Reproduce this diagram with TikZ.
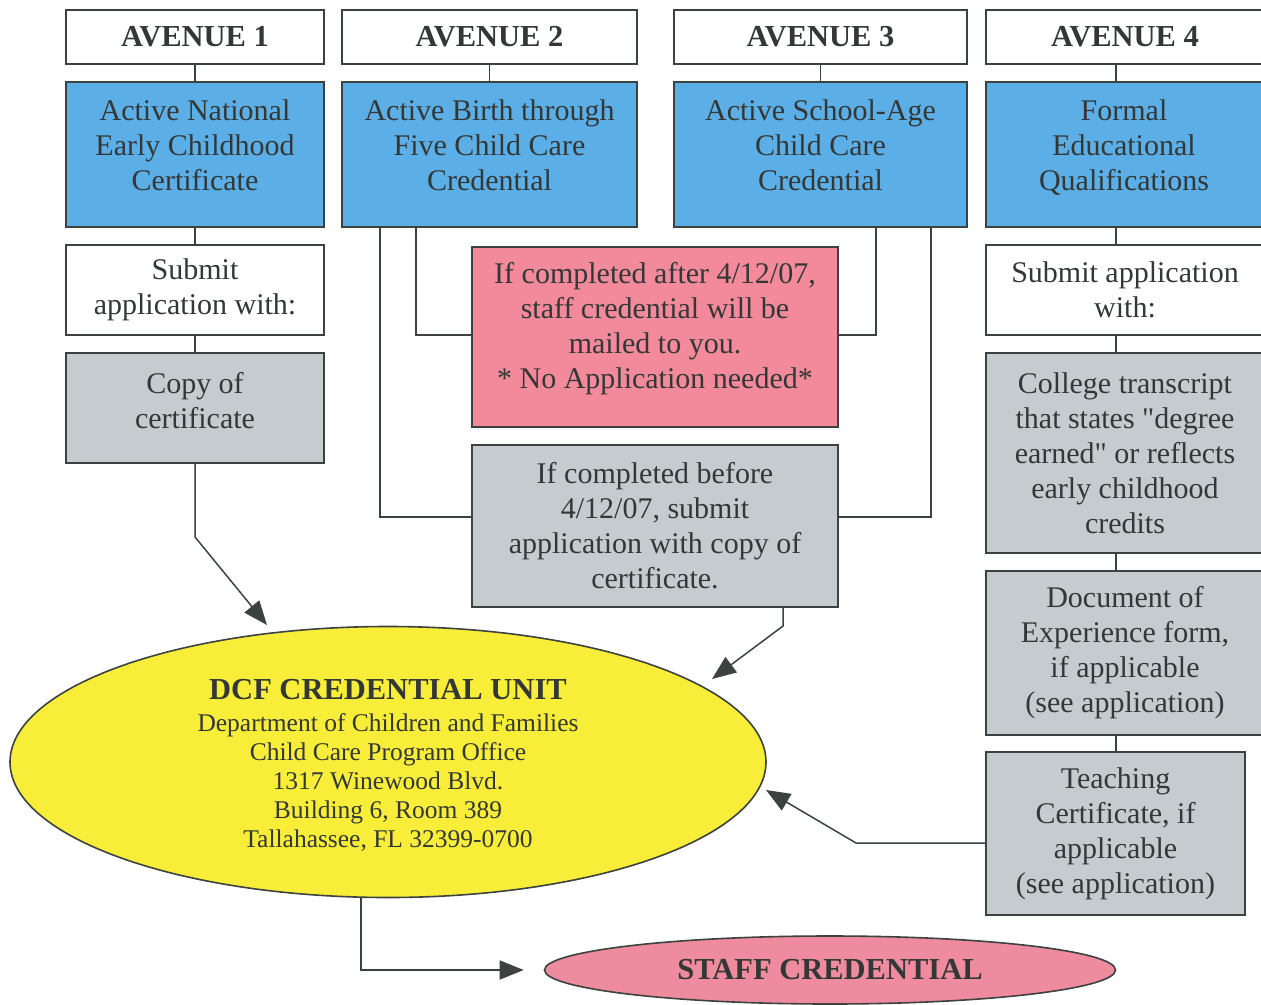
\documentclass[tikz,border=0pt]{standalone}
\usepackage{fontspec}
\setmainfont{Liberation Serif}[Ligatures=TeXOff]
\usetikzlibrary{arrows.meta,shapes.geometric}
\definecolor{bluefill}{HTML}{5CAEE6}
\definecolor{pinkfill}{HTML}{F28A9B}
\definecolor{greyfill}{HTML}{C6CBD0}
\definecolor{yellowfill}{HTML}{F8EE3A}
\definecolor{staffpink}{HTML}{EE8B9E}
\definecolor{linec}{HTML}{3C4240}
\definecolor{textc}{HTML}{333836}
\begin{document}
\begin{tikzpicture}[x=1pt,y=-1pt,
  box/.style={draw=linec, line width=1.6pt, inner sep=0pt, align=center, text=textc,
    font=\fontsize{30}{35}\selectfont},
  txt/.style={inner sep=0pt, align=center, text=textc, font=\fontsize{30}{35}\selectfont},
  headbox/.style={box, fill=white, minimum height=54pt, font=\fontsize{30.5}{34}\selectfont\bfseries},
  bluebox/.style={box, fill=bluefill, minimum height=145pt},
  whitebox/.style={box, fill=white},
  greybox/.style={box, fill=greyfill},
  pinkbox/.style={box, fill=pinkfill},
  conn/.style={draw=linec, line width=1.5pt},
  arr/.style={conn, -{Triangle[length=24pt,width=19pt]}},
]
\useasboundingbox (0,0) rectangle (1261,1004);
\fill[white] (0,0) rectangle (1261,1004);

% headers
\node[headbox, minimum width=258pt] (h1) at (195,37) {AVENUE 1};
\node[headbox, minimum width=295pt] (h2) at (489.5,37) {AVENUE 2};
\node[headbox, minimum width=293pt] (h3) at (820.5,37) {AVENUE 3};
\node[headbox, minimum width=278pt] (h4) at (1125,37) {AVENUE 4};

% blue boxes
\node[bluebox, minimum width=258pt] (b1) at (195,154.5) {};
\node[bluebox, minimum width=295pt] (b2) at (489.5,154.5) {};
\node[bluebox, minimum width=293pt] (b3) at (820.5,154.5) {};
\node[bluebox, minimum width=278pt] (b4) at (1125,154.5) {};
\node[txt] (b1t) at ([yshift=9pt]b1.center) {Active National\\Early Childhood\\Certificate};
\node[txt] (b2t) at ([yshift=9pt]b2.center) {Active Birth through\\Five Child Care\\Credential};
\node[txt] (b3t) at ([yshift=9pt]b3.center) {Active School-Age\\Child Care\\Credential};
\node[txt] (b4t) at ([xshift=-1pt,yshift=7pt]b4.center) {Formal\\Educational\\Qualifications};

% avenue 1 column
\node[whitebox, minimum width=258pt, minimum height=90pt] (s1) at (195,290) {Submit\\application with:};
\node[greybox, minimum width=258pt, minimum height=110pt] (cp) at (195,408) {};
\node[txt] (cpt) at ([yshift=7pt]cp.center) {Copy of\\certificate};

% middle boxes
\node[pinkbox, minimum width=366pt, minimum height=180pt] (pk) at (655,337) {};
\node[txt] (pkt) at ([yshift=8pt]pk.center)
  {If completed after 4/12/07,\\staff credential will be\\mailed to you.\\* No Application needed*};
\node[greybox, minimum width=366pt, minimum height=162pt] (gb) at (655,526)
  {If completed before\\4/12/07, submit\\application with copy of\\certificate.};

% avenue 4 column
\node[whitebox, minimum width=278pt, minimum height=90pt] (s4) at (1125,290) {Submit application\\with:};
\node[greybox, minimum width=278pt, minimum height=200pt] (ct) at (1125,453)
  {College transcript\\that states "degree\\earned" or reflects\\early childhood\\credits};
\node[greybox, minimum width=278pt, minimum height=164pt] (de) at (1125,653)
  {Document of\\Experience form,\\if applicable\\(see application)};
\node[greybox, minimum width=259pt, minimum height=163pt] (tc) at (1115.5,833.5)
  {Teaching\\Certificate, if\\applicable\\(see application)};

% ellipses
\node[ellipse, draw=linec, line width=1.6pt, fill=yellowfill, minimum width=756pt, minimum height=271pt,
  inner sep=0pt] (dcf) at (388,762) {};
\node[txt, font=\fontsize{25.5}{29}\selectfont] (dcft) at ([yshift=-3pt]dcf.center)
  {{\fontsize{30.5}{32}\selectfont\bfseries DCF CREDENTIAL UNIT}\\[3pt]
   Department of Children and Families\\
   Child Care Program Office\\
   1317 Winewood Blvd.\\
   Building 6, Room 389\\
   Tallahassee, FL 32399-0700};
\node[ellipse, draw=linec, line width=1.6pt, fill=staffpink, minimum width=571pt, minimum height=68pt,
  inner sep=0pt, text=textc, font=\fontsize{30.5}{34}\selectfont\bfseries] (st) at (830,970) {STAFF CREDENTIAL};

% helper coordinates
\coordinate (c4) at (1116,0);
\coordinate (x2l) at (380,0);
\coordinate (x2r) at (416,0);
\coordinate (x3l) at (876,0);
\coordinate (x3r) at (931,0);
\coordinate (t1) at (267,625);
\coordinate (k1) at (195,537);
\coordinate (t2) at (712,679);
\coordinate (k2) at (783,626);
\coordinate (t3) at (766,790);
\coordinate (k3) at (856,843);
\coordinate (k4) at (361,970);
\coordinate (x5) at (361,0);
\coordinate (x6) at (783,0);

% connectors
\draw[conn] (h1.south) -- (b1.north);
\draw[conn] (h2.south) -- (b2.north);
\draw[conn] (h3.south) -- (b3.north);
\draw[conn] (h4.south -| c4) -- (b4.north -| c4);
\draw[conn] (b1.south) -- (s1.north);
\draw[conn] (s1.south) -- (cp.north);
\draw[conn] (b4.south -| c4) -- (s4.north -| c4);
\draw[conn] (s4.south -| c4) -- (ct.north -| c4);
\draw[conn] (ct.south -| c4) -- (de.north -| c4);
\draw[conn] (de.south -| c4) -- (tc.north -| c4);

\draw[conn] (b2.south -| x2r) |- ([yshift=2pt]pk.west);
\draw[conn] (b2.south -| x2l) |- ([yshift=9pt]gb.west);
\draw[conn] (b3.south -| x3l) |- ([yshift=2pt]pk.east);
\draw[conn] (b3.south -| x3r) |- ([yshift=9pt]gb.east);

\draw[arr] (cp.south) -- (k1) -- (t1);
\draw[arr] (gb.south -| x6) -- (k2) -- (t2);
\draw[arr] ([yshift=-9.5pt]tc.west) -- (k3) -- (t3);
\draw[arr] (dcf.south -| x5) -- (k4) -- ([xshift=-20pt]st.west);
\end{tikzpicture}
\end{document}
